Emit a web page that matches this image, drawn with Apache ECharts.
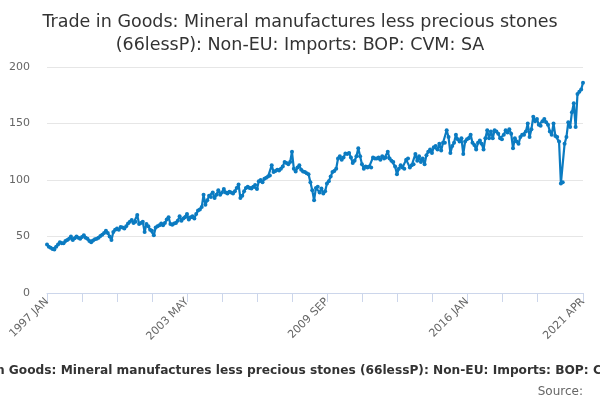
<!DOCTYPE html>
<html>
<head>
<meta charset="utf-8">
<script src="https://cdn.jsdelivr.net/npm/echarts@6/dist/echarts.min.js"></script>
<style>
  html, body { margin: 0; padding: 0; background: #fff; }
  #chart { width: 600px; height: 400px; }
</style>
</head>
<body>
<div id="chart"></div>
<script>
// monthly values, Jan 1997 .. Apr 2021
const years = [1997, 1998, 1999, 2000, 2001, 2002, 2003, 2004, 2005, 2006, 2007, 2008,
  2009, 2010, 2011, 2012, 2013, 2014, 2015, 2016, 2017, 2018, 2019, 2020, 2021];
const months = ['JAN', 'FEB', 'MAR', 'APR', 'MAY', 'JUN', 'JUL', 'AUG', 'SEP', 'OCT', 'NOV', 'DEC'];

const v1997 = [43, 41, 40, 39, 38.5, 41, 43, 45, 44, 44, 46, 47];
const v1998 = [48, 50, 47, 48.5, 50, 49, 48, 49.5, 51, 49, 48, 46];
const v1999 = [45, 46.5, 47.5, 48, 49, 50.5, 51.5, 53, 55, 53, 50, 47];
const v2000 = [54, 56, 57, 56, 58.5, 58, 57, 59, 61.5, 63, 64.5, 62];
const v2001 = [63, 69, 61, 62, 63, 54, 61, 59, 56, 55, 51, 58];
const v2002 = [59, 60, 61.5, 60, 62, 65, 67, 61, 60.5, 61.5, 62, 64];
const v2003 = [68, 64, 66, 67, 70, 65, 67, 68, 66, 70, 73, 74];
const v2004 = [76, 87, 78, 82, 86, 85, 89, 84, 87, 91, 87, 89];
const v2005 = [92, 89, 88, 89.5, 89, 88, 90, 93, 96, 84, 86, 90];
const v2006 = [93, 94, 93, 92.5, 94, 95.5, 92, 99, 100, 98, 101, 102];
const v2007 = [103, 104, 113, 107, 108, 109, 108.5, 110, 112, 116, 115, 114];
const v2008 = [116, 125, 110, 107.5, 111, 113, 109, 107.5, 107, 106, 105, 98];
const v2009 = [91, 82, 93, 94, 89, 92.5, 88, 90, 97, 99, 103, 107];
const v2010 = [108, 110, 119, 121, 118, 120, 123.5, 123, 124, 120, 115, 117];
const v2011 = [121, 128, 121, 114, 110, 112, 111, 112, 111, 120, 119, 119];
const v2012 = [120, 118, 121, 119, 120, 125, 119, 117, 116, 112, 105, 110];
const v2013 = [113, 111, 110, 118, 119, 111, 113, 114, 123, 117, 121, 116];
const v2014 = [119, 114, 122, 125, 127, 124, 129, 130, 127, 132, 126, 133];
const v2015 = [133, 144, 138, 124, 130, 133, 140, 136, 134, 137, 123, 134];
const v2016 = [136, 137, 140, 133, 131, 127, 133, 135, 132, 127, 137, 144];
const v2017 = [137, 143, 137, 144, 143, 141, 137, 136, 140, 144, 142, 145];
const v2018 = [141, 128, 137, 134, 132, 138, 140, 140, 143, 150, 138, 145];
const v2019 = [156, 152, 154, 149, 148, 152, 154, 151, 149, 143, 140, 150];
const v2020 = [139, 138, 134, 97, 98, 132, 138, 151, 147, 160, 168, 147];
const v2021 = [176, 178, 180, 186];

const yTicks = [0, 50, 100, 150, 200];

const titleText = 'Trade in Goods: Mineral manufactures less precious stones\n(66lessP): Non-EU: Imports: BOP: CVM: SA';
const footText = 'Trade in Goods: Mineral manufactures less precious stones (66lessP): Non-EU: Imports: BOP: CVM: SA';

const values = [].concat(v1997, v1998, v1999, v2000, v2001, v2002, v2003, v2004, v2005,
  v2006, v2007, v2008, v2009, v2010, v2011, v2012, v2013, v2014, v2015, v2016, v2017,
  v2018, v2019, v2020, v2021);
const categories = [];
years.forEach((y) => {
  months.forEach((m) => {
    if (categories.length < values.length) categories.push(y + ' ' + m);
  });
});
const last = categories.length - 1;

const chart = echarts.init(document.getElementById('chart'));
chart.setOption({
  animation: false,
  textStyle: { fontFamily: 'DejaVu Sans' },
  title: [
    {
      text: titleText,
      left: 'center',
      top: 6,
      textStyle: { fontSize: 17.5, fontWeight: 'normal', color: '#333', lineHeight: 23 }
    },
    {
      text: footText,
      left: 'center',
      top: 360,
      textStyle: { fontSize: 12.2, fontWeight: 'bold', color: '#333' }
    },
    {
      text: 'Source:',
      right: 12,
      top: 381,
      textStyle: { fontSize: 12, fontWeight: 'normal', color: '#666' }
    }
  ],
  grid: { left: 47, right: 17, top: 67, bottom: 107, containLabel: false },
  xAxis: {
    type: 'category',
    data: categories,
    boundaryGap: false,
    axisLine: { lineStyle: { color: '#ccd6eb' } },
    axisTick: {
      length: 9,
      lineStyle: { color: '#ccd6eb' },
      interval: (i) => (i % 19 === 0 && i < 280) || i === last
    },
    axisLabel: {
      rotate: 45,
      color: '#666',
      fontSize: 11,
      margin: 7,
      interval: (i) => i % 76 === 0 || i === last
    },
    splitLine: { show: false }
  },
  yAxis: {
    type: 'value',
    min: yTicks[0],
    max: yTicks[yTicks.length - 1],
    interval: 50,
    axisLine: { show: false },
    axisTick: { show: false },
    axisLabel: { color: '#666', fontSize: 11, margin: 17 },
    splitLine: { lineStyle: { color: '#e6e6e6' } }
  },
  series: [{
    type: 'line',
    data: values,
    symbol: 'circle',
    symbolSize: 4,
    showAllSymbol: true,
    lineStyle: { color: '#0b7bc1', width: 2.2 },
    itemStyle: { color: '#0b7bc1' }
  }]
});
</script>
</body>
</html>
